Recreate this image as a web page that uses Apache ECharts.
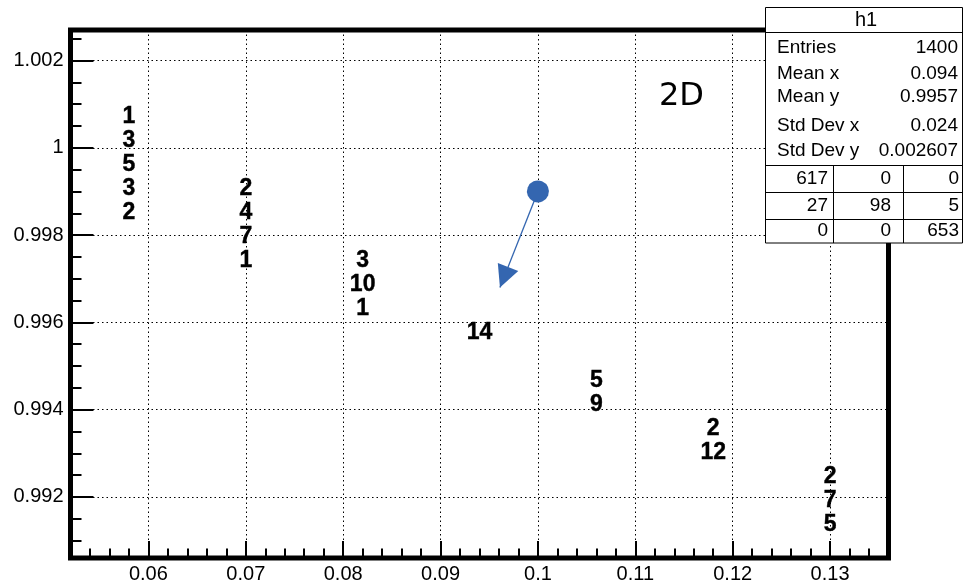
<!DOCTYPE html>
<html>
<head>
<meta charset="utf-8">
<title>h1</title>
<script src="https://cdn.jsdelivr.net/npm/echarts@6/dist/echarts.min.js"></script>
<style>
  html, body { margin: 0; padding: 0; background: #fff; }
  #chart { width: 964px; height: 584px; }
</style>
</head>
<body>
<div id="chart"></div>
<script>
// Histogram axis ranges (7 x bins of 0.012, 22 y bins of 0.00055)
const xMin = 0.052;
const xMax = 0.136;
const yMin = 0.9906;
const yMax = 1.0027;

// Bin centers
const xCenters = [0.058, 0.070, 0.082, 0.094, 0.106, 0.118, 0.130];
const yCenters = [
  0.990875, 0.991425, 0.991975, 0.992525, 0.993075, 0.993625, 0.994175, 0.994725,
  0.995275, 0.995825, 0.996375, 0.996925, 0.997475, 0.998025, 0.998575, 0.999125,
  0.999675, 1.000225, 1.000775, 1.001325, 1.001875, 1.002425
];

// Non-empty cells: [x bin index, y bin index, entries]
const cells = [
  [0, 18, 1], [0, 17, 3], [0, 16, 5], [0, 15, 3], [0, 14, 2],
  [1, 15, 2], [1, 14, 4], [1, 13, 7], [1, 12, 1],
  [2, 12, 3], [2, 11, 10], [2, 10, 1],
  [3, 9, 14],
  [4, 7, 5], [4, 6, 9],
  [5, 5, 2], [5, 4, 12],
  [6, 3, 2], [6, 2, 7], [6, 1, 5]
];

// Axis tick labels
const xMajor = [0.06, 0.07, 0.08, 0.09, 0.1, 0.11, 0.12, 0.13];
const yMajor = [0.992, 0.994, 0.996, 0.998, 1, 1.002];

// Annotation arrow: from marker to arrow tip
const arrowFrom = [0.1, 0.999];
const arrowTo = [0.0961, 0.9968];

// Statistics box contents
const statsTitle = 'h1';
const statsNames = ['Entries', 'Mean x', 'Mean y', 'Std Dev x', 'Std Dev y'];
const statsValues = ['1400', '0.094', '0.9957', '0.024', '0.002607'];
const overflowTable = [
  ['617', '0', '0'],
  ['27', '98', '5'],
  ['0', '0', '653']
];

function minorTicks(lo, hi, step, majors) {
  const out = [];
  const n = Math.round((hi - lo) / step);
  for (let i = 0; i <= n; i++) {
    const v = +(lo + i * step).toFixed(6);
    if (!majors.some(m => Math.abs(m - v) < step / 10)) out.push(v);
  }
  return out;
}
const xMinor = minorTicks(xMin, xMax, 0.002, xMajor);
const yMinor = minorTicks(0.991, 1.0025, 0.0005, yMajor);

const FONT = 'Liberation Sans, Arial, Helvetica, sans-serif';
const arrowColor = '#3466b0';

const chart = echarts.init(document.getElementById('chart'), null, { renderer: 'canvas' });

const axisCommon = {
  type: 'value',
  axisLine: { show: false },
  splitArea: { show: false }
};

// Stats box graphics
const box = { x: 765.5, y: 7.5, w: 197, h: 235.5 };
const statsRowsY = [47.5, 74, 97, 126, 150.5];
const tableRowsY = [179, 205.5, 231];
const tableRight = [828, 891, 959];
const statsFont = '19px ' + FONT;
const statsEls = [];
statsEls.push({
  type: 'rect', z: 100,
  shape: { x: box.x, y: box.y, width: box.w, height: box.h },
  style: { fill: '#fff', stroke: '#000', lineWidth: 1 }
});
[32.5, 165.5, 192.5, 219.5].forEach(y => statsEls.push({
  type: 'line', z: 101,
  shape: { x1: box.x, y1: y, x2: box.x + box.w, y2: y },
  style: { stroke: '#000', lineWidth: 1 }
}));
[833.5, 903.5].forEach(x => statsEls.push({
  type: 'line', z: 101,
  shape: { x1: x, y1: 165.5, x2: x, y2: box.y + box.h },
  style: { stroke: '#000', lineWidth: 1 }
}));
statsEls.push({
  type: 'text', z: 102, x: 866, y: 20,
  style: { text: statsTitle, font: '20px ' + FONT, fill: '#000', align: 'center', verticalAlign: 'middle' }
});
statsNames.forEach((name, i) => {
  statsEls.push({
    type: 'text', z: 102, x: 777, y: statsRowsY[i],
    style: { text: name, font: statsFont, fill: '#000', align: 'left', verticalAlign: 'middle' }
  });
  statsEls.push({
    type: 'text', z: 102, x: 958, y: statsRowsY[i],
    style: { text: statsValues[i], font: statsFont, fill: '#000', align: 'right', verticalAlign: 'middle' }
  });
});
overflowTable.forEach((row, r) => row.forEach((v, c) => {
  statsEls.push({
    type: 'text', z: 102, x: tableRight[c], y: tableRowsY[r],
    style: { text: v, font: statsFont, fill: '#000', align: 'right', verticalAlign: 'middle' }
  });
}));
// Pad label
statsEls.push({
  type: 'text', z: 50, x: 659, y: 97,
  style: { text: '2D', font: '32px DejaVu Sans, sans-serif', fill: '#000', align: 'left', verticalAlign: 'middle' }
});

const option = {
  animation: false,
  backgroundColor: '#fff',
  grid: {
    left: 70.5, right: 75.5, top: 30, bottom: 25.5,
    show: true, borderWidth: 5, borderColor: '#000', backgroundColor: 'transparent'
  },
  xAxis: [
    Object.assign({}, axisCommon, {
      min: xMin, max: xMax, position: 'bottom',
      axisTick: { show: true, inside: true, length: 17, customValues: xMajor, lineStyle: { color: '#000', width: 2 } },
      axisLabel: { show: true, customValues: xMajor, margin: 6, fontSize: 20, fontFamily: FONT, color: '#000' },
      splitLine: { show: true, lineStyle: { color: '#000', width: 1, type: [1.5, 3] } }
    }),
    Object.assign({}, axisCommon, {
      min: xMin, max: xMax, position: 'bottom',
      axisTick: { show: true, inside: true, length: 9.5, customValues: xMinor, lineStyle: { color: '#000', width: 2 } },
      axisLabel: { show: false },
      splitLine: { show: false }
    })
  ],
  yAxis: [
    Object.assign({}, axisCommon, {
      min: yMin, max: yMax, position: 'left',
      axisTick: { show: true, inside: true, length: 23, customValues: yMajor, lineStyle: { color: '#000', width: 2 } },
      axisLabel: { show: true, customValues: yMajor, margin: 7, fontSize: 20, fontFamily: FONT, color: '#000' },
      splitLine: { show: true, lineStyle: { color: '#000', width: 1, type: [1.5, 3] } }
    }),
    Object.assign({}, axisCommon, {
      min: yMin, max: yMax, position: 'left',
      axisTick: { show: true, inside: true, length: 11, customValues: yMinor, lineStyle: { color: '#000', width: 2 } },
      axisLabel: { show: false },
      splitLine: { show: false }
    })
  ],
  series: [{
    type: 'scatter',
    xAxisIndex: 0,
    yAxisIndex: 0,
    symbol: 'circle',
    symbolSize: 1,
    itemStyle: { color: '#fff', opacity: 0 },
    silent: true,
    data: cells.map(c => [xCenters[c[0]], yCenters[c[1]], c[2]]),
    label: {
      show: true,
      position: 'inside',
      offset: [0, 2.5],
      formatter: p => String(p.value[2]),
      fontSize: 23,
      fontWeight: 'bold',
      fontFamily: FONT,
      color: '#000',
      opacity: 1,
      textBorderColor: '#000',
      textBorderWidth: 0.4
    },
    markLine: {
      silent: true,
      animation: false,
      symbol: ['circle', 'triangle'],
      symbolSize: [22, 22],
      symbolOffset: [[0, 0], [0, 11]],
      label: { show: false },
      lineStyle: { color: arrowColor, width: 1.3, type: 'solid', opacity: 1 },
      emphasis: { disabled: true },
      data: [[{ coord: arrowFrom }, { coord: arrowTo }]]
    }
  }],
  graphic: { elements: statsEls }
};

chart.setOption(option);
</script>
</body>
</html>
